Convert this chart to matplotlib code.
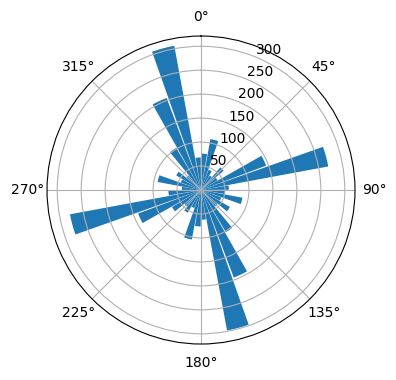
import numpy as np
import matplotlib.pyplot as plt

# Direction bins (degrees, bin centres) and counts
directions = [5, 15, 25, 35, 45, 55, 65, 75, 85,
              95, 105, 115, 125, 135, 145, 155, 165, 175,
              185, 195, 205, 215, 225, 235, 245, 255, 265,
              275, 285, 295, 305, 315, 325, 335, 345, 355]
counts = [76, 108, 45, 35, 62, 40, 145, 270, 58,
          50, 88, 45, 70, 45, 102, 195, 298, 62,
          76, 105, 40, 55, 45, 70, 140, 278, 68,
          40, 92, 45, 60, 40, 102, 205, 306, 68]

theta = np.deg2rad(directions)
width = np.deg2rad(9)

fig = plt.figure(figsize=(3.96, 3.8), dpi=100)
ax = fig.add_axes([0.1187, 0.0947, 0.7778, 0.8105], projection='polar')

# North at the top, angles run clockwise
ax.set_theta_zero_location('N')
ax.set_theta_direction(-1)

ax.bar(theta, counts, width=width, color='#1f77b4')

fig.savefig('out.png', dpi=100)
